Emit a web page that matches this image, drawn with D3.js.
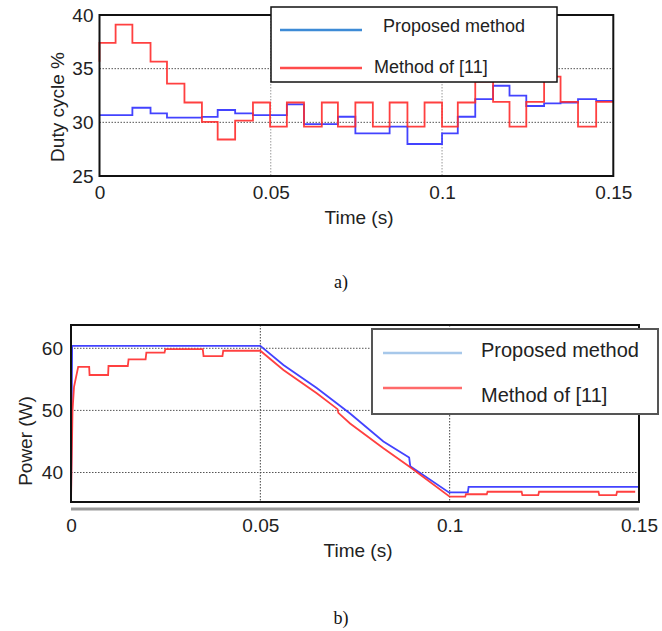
<!DOCTYPE html>
<html>
<head>
<meta charset="utf-8">
<script src="https://cdn.jsdelivr.net/npm/d3@7"></script>
<style>
  body { margin: 0; background: #fff; }
  svg { display: block; font-family: "Liberation Sans", Arial, sans-serif; }
</style>
</head>
<body>
<div class="container"></div>
<script>
// ---- data ----
const timeTicks = [0, 0.05, 0.1, 0.15]
const timeTickLabels = ["0", "0.05", "0.1", "0.15"]
const dutyTicks = [25, 30, 35, 40]
const powerTicks = [40, 50, 60]
const seriesNames = ["Proposed method", "Method of [11]"]

// duty cycle (%), step changes
const dutyTime = [0, 0, 0.0047, 0.0096, 0.0149, 0.0197, 0.0248, 0.0299, 0.0345, 0.0396, 0.0448,
  0.0498, 0.0547, 0.0597, 0.0649, 0.0696, 0.0747, 0.0798, 0.0847, 0.0899, 0.0949,
  0.1, 0.1046, 0.1097, 0.1149, 0.1197, 0.1246, 0.1298, 0.1346, 0.1397, 0.145, 0.15]
const dutyProposed = [30.68, 30.68, 30.68, 31.36, 30.84, 30.43, 30.43, 30.5, 31.15, 30.84, 30.68,
  30.68, 31.68, 29.84, 29.84, 30.52, 28.98, 28.98, 29.6, 27.98, 27.98,
  28.98, 30.52, 32.17, 33.41, 32.48, 31.52, 31.77, 31.85, 32.17, 32.0, 32.0]
const dutyRef = [35.65, 37.4, 39.1, 37.4, 35.65, 33.6, 31.85, 30.05, 28.4, 30.15, 31.85,
  29.6, 31.85, 29.6, 31.85, 29.6, 31.85, 29.6, 31.85, 29.6, 31.85,
  29.6, 31.85, 33.8, 31.9, 29.6, 31.9, 34.25, 31.9, 29.6, 31.9, 31.9]

// power (W)
const powerTimeProposed = [0, 0.0003, 0.05, 0.0561, 0.0649, 0.0737, 0.0825, 0.0893, 0.0896,
  0.0998, 0.1048, 0.105, 0.15]
const powerProposed = [35.3, 60.4, 60.4, 57.3, 53.6, 49.5, 45.0, 42.4, 41.0,
  36.8, 36.8, 37.7, 37.7]
const powerTimeRef = [0, 0.0004, 0.0008, 0.0019, 0.0048, 0.0049, 0.0098, 0.0099, 0.015, 0.0152,
  0.0197, 0.0199, 0.0247, 0.0249, 0.0348, 0.035, 0.04, 0.0402, 0.05, 0.0561, 0.0649,
  0.0704, 0.0706, 0.0737, 0.0825, 0.0895, 0.1, 0.1041, 0.1043, 0.1098, 0.11, 0.119,
  0.1192, 0.1234, 0.1236, 0.1393, 0.1395, 0.144, 0.1442, 0.149]
const powerRef = [35.3, 50, 53.8, 57.0, 57.0, 55.7, 55.7, 57.15, 57.15, 58.2,
  58.2, 59.3, 59.3, 59.85, 59.85, 58.75, 58.75, 59.6, 59.6, 56.5, 52.75,
  50.2, 49.6, 47.9, 43.9, 40.9, 36.1, 36.1, 36.5, 36.5, 36.9, 36.9,
  36.35, 36.35, 36.9, 36.9, 36.35, 36.35, 36.9, 36.9]

const w = 662
const h = 631
const blue = "#2f2fff"
const red = "#ff2b2b"

const svg = d3.select(".container")
  .append("svg")
  .attr("width", w)
  .attr("height", h)

function drawPanel(opt) {
  const x = d3.scaleLinear().domain([0, 0.15]).range(opt.xRange)
  const y = d3.scaleLinear().domain(opt.yDomain).range(opt.yRange)
  const g = svg.append("g")
  const [x0, x1] = opt.xRange
  const [yb, yt] = opt.yRange

  // grid
  g.append("g").selectAll("line")
    .data(opt.yGrid).enter().append("line")
    .attr("x1", x0).attr("x2", x1)
    .attr("y1", d => y(d)).attr("y2", d => y(d))
    .attr("stroke", "#555").attr("stroke-width", 1).attr("stroke-dasharray", "1.5,1.5")
  g.append("g").selectAll("line")
    .data([0.05, 0.1]).enter().append("line")
    .attr("x1", d => x(d)).attr("x2", d => x(d))
    .attr("y1", yt).attr("y2", yb)
    .attr("stroke", opt.vGridColor).attr("stroke-width", 1).attr("stroke-dasharray", "1.5,1.5")

  // series
  opt.series.forEach(s => {
    const pts = s.t.map((t, i) => [t, s.v[i]])
    g.append("path")
      .datum(pts)
      .attr("fill", "none")
      .attr("stroke", s.color)
      .attr("stroke-width", 1.8)
      .attr("stroke-opacity", 0.9)
      .attr("d", d3.line().x(d => x(d[0])).y(d => y(d[1])).curve(opt.curve))
  })

  // frame
  g.append("rect")
    .attr("x", x0).attr("y", yt)
    .attr("width", x1 - x0).attr("height", yb - yt)
    .attr("fill", "none").attr("stroke", "#111").attr("stroke-width", 2)

  if (opt.band) {
    g.append("line")
      .attr("x1", x0).attr("x2", x1)
      .attr("y1", opt.band).attr("y2", opt.band)
      .attr("stroke", "#999").attr("stroke-width", 3)
  }

  // axes
  const xAxis = g.append("g")
    .attr("transform", `translate(0,${yb})`)
    .call(d3.axisBottom(x).tickValues(timeTicks)
      .tickFormat((d, i) => timeTickLabels[i]).tickSize(0).tickPadding(opt.xPad))
  xAxis.select(".domain").remove()
  xAxis.selectAll("text").attr("font-size", 19).attr("fill", "#222")
    .attr("font-family", "Liberation Sans, Arial, sans-serif")

  const yAxis = g.append("g")
    .attr("transform", `translate(${x0},0)`)
    .call(d3.axisLeft(y).tickValues(opt.yTicks).tickSize(0).tickPadding(opt.yPad))
  yAxis.select(".domain").remove()
  yAxis.selectAll("text").attr("font-size", 19).attr("fill", "#222")
    .attr("font-family", "Liberation Sans, Arial, sans-serif")

  g.append("text")
    .attr("x", opt.xLabelPos[0]).attr("y", opt.xLabelPos[1])
    .attr("text-anchor", "middle").attr("dominant-baseline", "central")
    .attr("font-size", 19).attr("fill", "#222")
    .text("Time (s)")
  g.append("text")
    .attr("transform", `translate(${opt.yLabelPos[0]},${opt.yLabelPos[1]}) rotate(-90)`)
    .attr("text-anchor", "middle").attr("dominant-baseline", "central")
    .attr("font-size", 19).attr("fill", "#222")
    .text(opt.yLabel)

  // legend
  const L = opt.legend
  g.append("rect")
    .attr("x", L.x).attr("y", L.y).attr("width", L.w).attr("height", L.h)
    .attr("fill", "#fff").attr("stroke", L.stroke).attr("stroke-width", L.sw)
  const item = g.selectAll(".legend-item")
    .data(seriesNames).enter().append("g")
    .attr("class", "legend-item")
  item.append("line")
    .attr("x1", L.lx0).attr("x2", L.lx1)
    .attr("y1", (d, i) => L.ly[i]).attr("y2", (d, i) => L.ly[i])
    .attr("stroke", (d, i) => L.colors[i]).attr("stroke-width", 2.5)
  item.append("text")
    .attr("x", (d, i) => L.tx[i]).attr("y", (d, i) => L.ty[i])
    .attr("dominant-baseline", "central")
    .attr("font-size", L.fs).attr("fill", "#222")
    .attr("font-family", "Liberation Sans, Arial, sans-serif")
    .text(d => d)

  // caption
  svg.append("text")
    .attr("x", 341).attr("y", opt.caption[1])
    .attr("text-anchor", "middle").attr("dominant-baseline", "central")
    .attr("font-family", "Liberation Serif, Times New Roman, serif")
    .attr("font-size", 18).attr("fill", "#111")
    .text(opt.caption[0])
}

drawPanel({
  xRange: [99.5, 613.3],
  yDomain: [25, 40],
  yRange: [176, 15],
  yGrid: [30, 35],
  yTicks: dutyTicks,
  vGridColor: "#999",
  curve: d3.curveStepAfter,
  series: [
    { t: dutyTime, v: dutyProposed, color: blue },
    { t: dutyTime, v: dutyRef, color: red }
  ],
  xPad: 10,
  yPad: 6,
  xLabelPos: [359, 217],
  yLabelPos: [57, 107],
  yLabel: "Duty cycle %",
  legend: {
    x: 271, y: 7, w: 286, h: 75, stroke: "#111", sw: 1.5,
    lx0: 280, lx1: 362, ly: [30, 68], colors: ["#3d8bd6", "#ff4c4c"],
    tx: [383, 374], ty: [26, 67], fs: 18
  },
  caption: ["a)", 282]
})

drawPanel({
  xRange: [71, 639],
  yDomain: [35.25, 63.75],
  yRange: [502, 325],
  yGrid: [40, 50, 60],
  yTicks: powerTicks,
  vGridColor: "#444",
  curve: d3.curveLinear,
  series: [
    { t: powerTimeProposed, v: powerProposed, color: blue },
    { t: powerTimeRef, v: powerRef, color: red }
  ],
  band: 509,
  xPad: 17,
  yPad: 8,
  xLabelPos: [358, 550],
  yLabelPos: [25, 441],
  yLabel: "Power (W)",
  legend: {
    x: 372, y: 329, w: 286, h: 85, stroke: "#555", sw: 2,
    lx0: 383, lx1: 462, ly: [353, 388], colors: ["#a7c8ea", "#ff6a6a"],
    tx: [481, 481], ty: [350, 395], fs: 20
  },
  caption: ["b)", 618]
})
</script>
</body>
</html>
